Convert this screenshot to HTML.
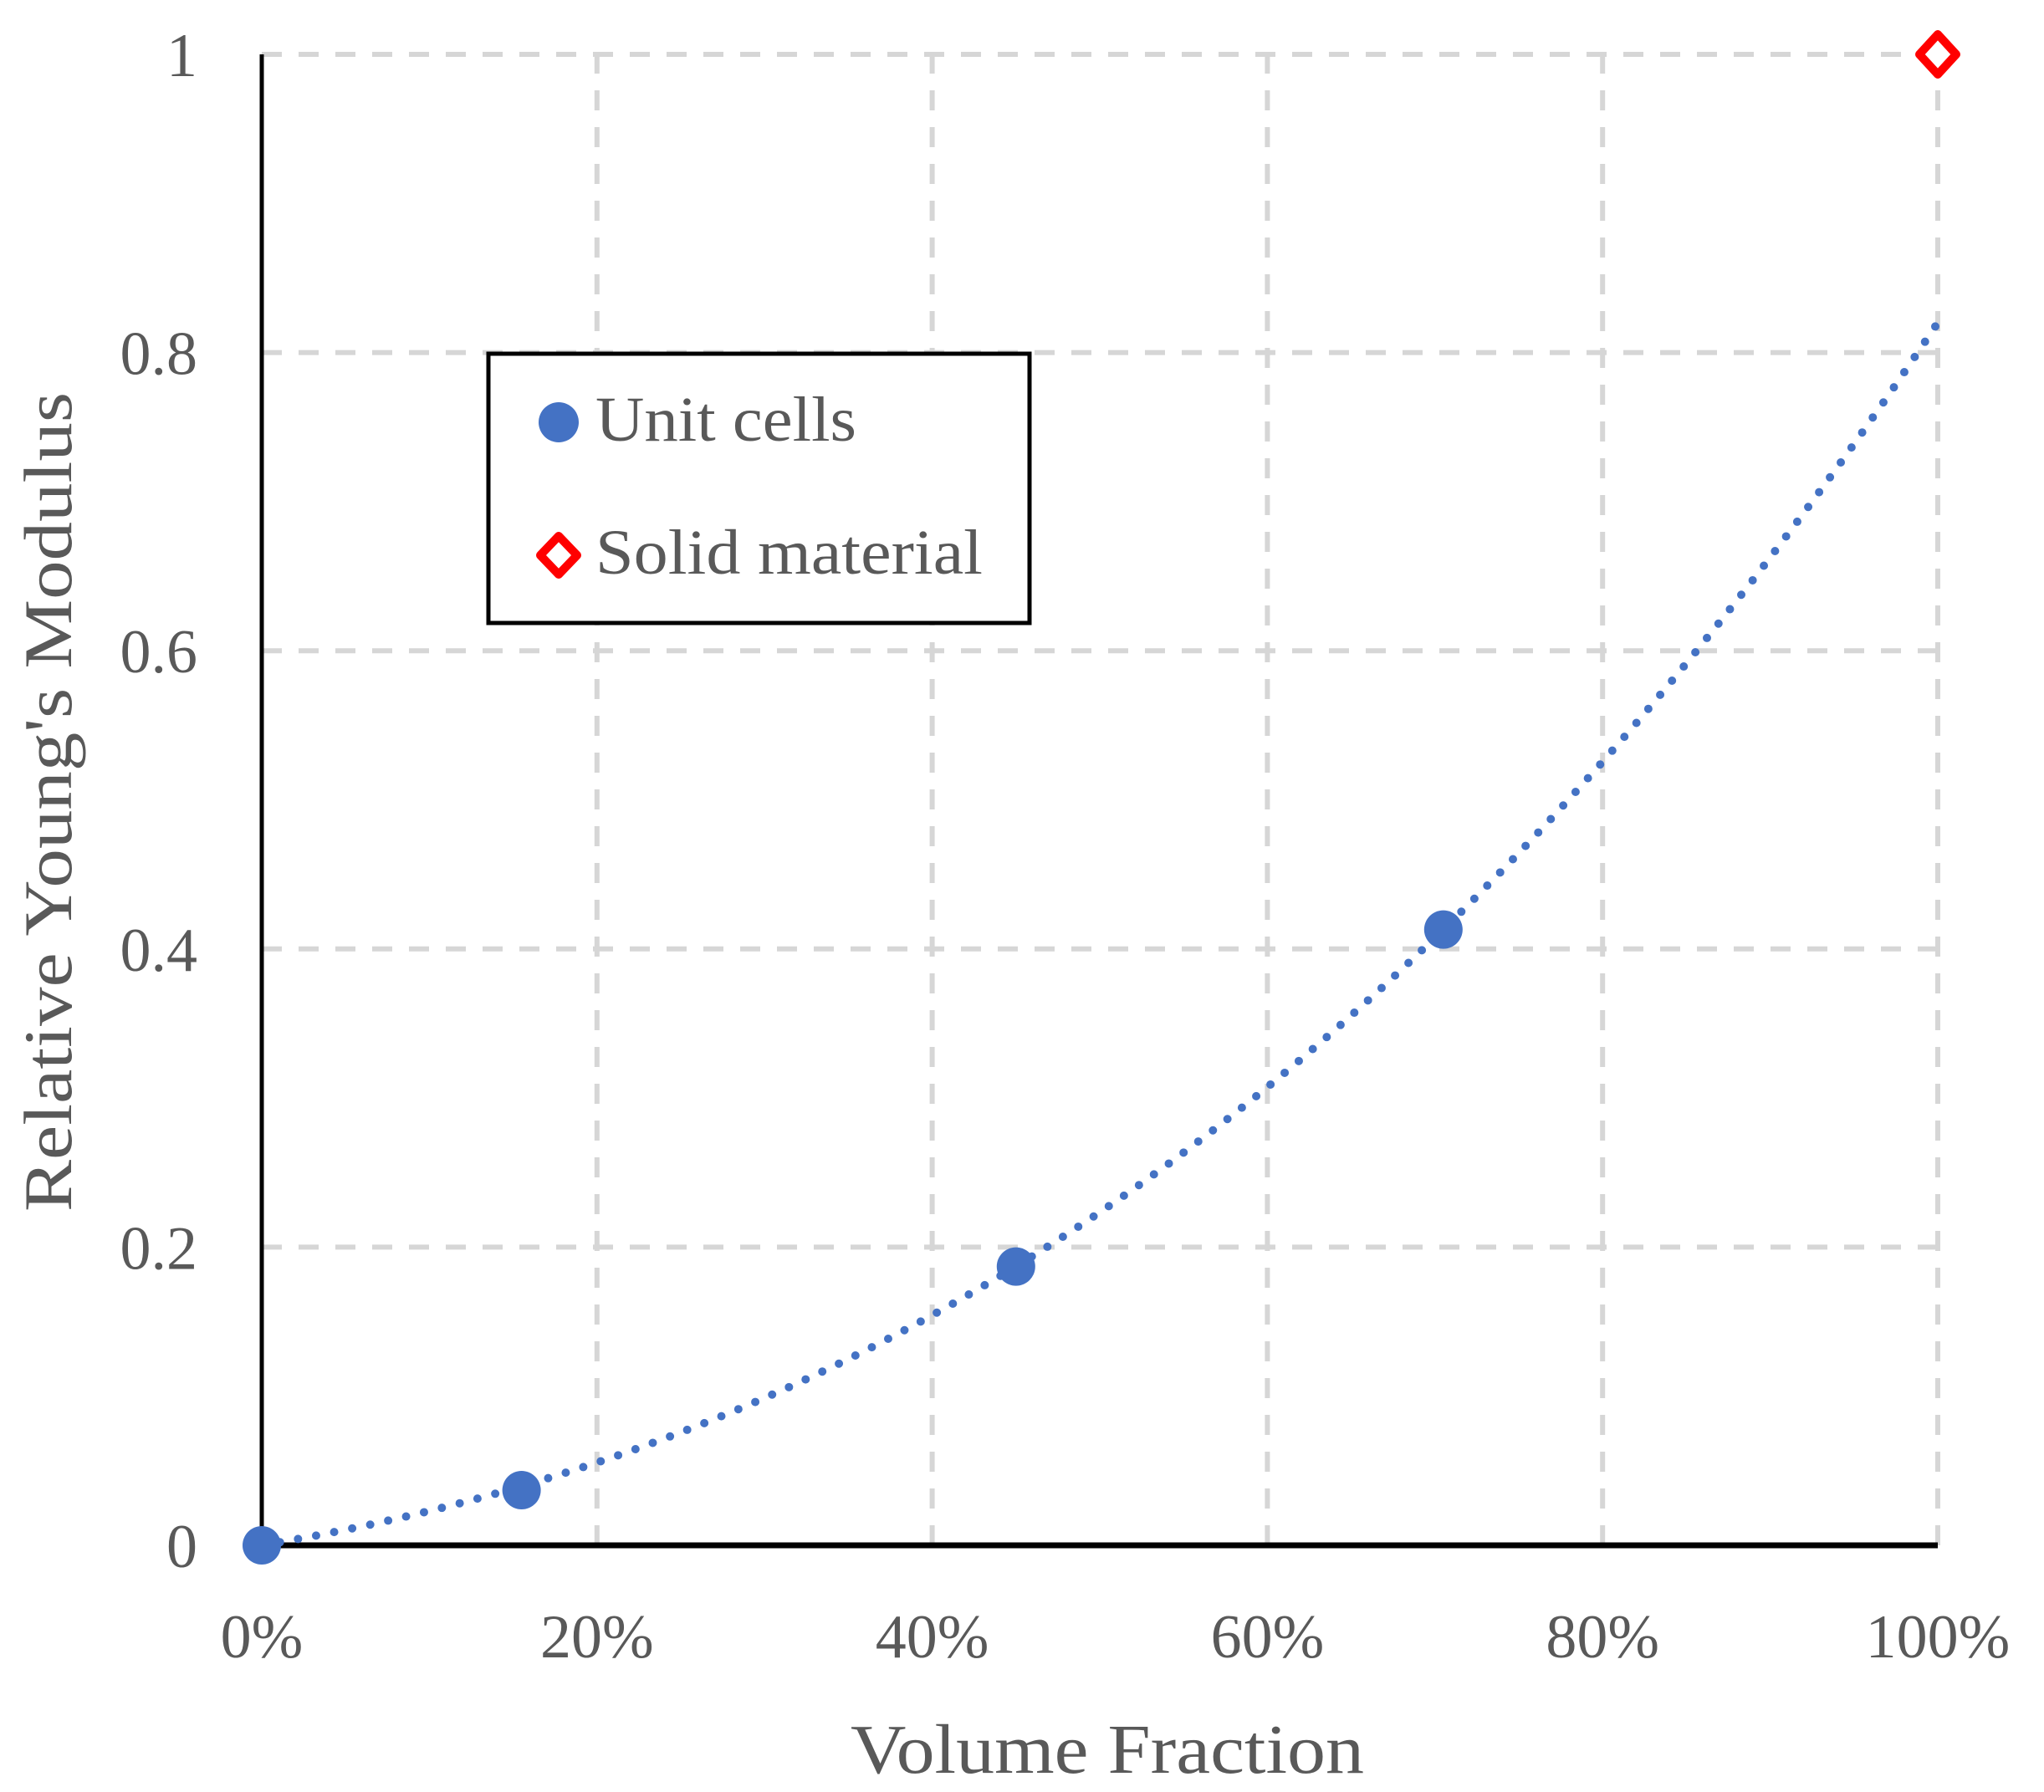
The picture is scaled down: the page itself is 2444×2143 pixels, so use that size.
<!DOCTYPE html>
<html><head><meta charset="utf-8"><style>
html,body{margin:0;padding:0;background:#fff;}
svg{display:block;}
text{font-family:"Liberation Serif",serif;fill:#595959;}
</style></head><body>
<svg id="chart" width="2444" height="2143" viewBox="0 0 2444 2143">
<g id="grid"></g>
<g id="axes"></g>
<g id="trend"></g>
<g id="marks"></g>
<text x="66" y="959" font-size="82" text-anchor="middle" textLength="980" lengthAdjust="spacingAndGlyphs" transform="rotate(-90 66 959)" dominant-baseline="middle">Relative Young's Modulus</text>
<text x="1324" y="2120" font-size="84" text-anchor="middle" textLength="614" lengthAdjust="spacingAndGlyphs">Volume Fraction</text>
<g>
<rect x="584" y="423" width="647" height="322" fill="#fff" stroke="#000" stroke-width="5"/>
<circle cx="668" cy="505" r="24" fill="#4472c4"/>
<text x="712" y="527" font-size="76" textLength="312" lengthAdjust="spacingAndGlyphs">Unit cells</text>
<path d="M668 641 L690 664 L668 687 L646 664 Z" fill="#fff" stroke="#ff0000" stroke-width="10" stroke-linejoin="round"/>
<text x="712" y="686" font-size="76" textLength="463" lengthAdjust="spacingAndGlyphs">Solid material</text>
</g>
</svg>
<script>
const xTicks=[0,0.2,0.4,0.6,0.8,1];
const xTickLabels=["0%","20%","40%","60%","80%","100%"];
const yTicks=[0,0.2,0.4,0.6,0.8,1];
const yTickLabels=["0","0.2","0.4","0.6","0.8","1"];
const unitX=[0,0.155,0.45,0.705];
const unitY=[0,0.037,0.187,0.413];
const solidX=[1];
const solidY=[1];
const trendCoef=[0,0.188,0.403,0.229];
const NS="http://www.w3.org/2000/svg";
const X0=313,X1=2317,Y0=1848,Y1=65;
function sx(v){return X0+(X1-X0)*v;}
function sy(v){return Y0-(Y0-Y1)*v;}
function mk(t,a,p){const e=document.createElementNS(NS,t);for(const k in a)e.setAttribute(k,a[k]);p.appendChild(e);return e;}
const grid=document.getElementById('grid'),axes=document.getElementById('axes'),svg=document.getElementById('chart');
xTicks.forEach((v,i)=>{
 if(v>0){const l=mk('line',{x1:sx(v),x2:sx(v),y1:Y0,y2:Y1,stroke:'#d6d6d6','stroke-width':6,'stroke-dasharray':'24 20'},grid);
 
 }
 const t=mk('text',{x:sx(v),y:1982,'font-size':74,'text-anchor':'middle'},svg);t.textContent=xTickLabels[i];
 
 
});
yTicks.forEach((v,i)=>{
 if(v>0){const l=mk('line',{x1:X0,x2:X1,y1:sy(v),y2:sy(v),stroke:'#d6d6d6','stroke-width':6,'stroke-dasharray':'24 20'},grid);
 
 }
 const t=mk('text',{x:236,y:sy(v)+26,'font-size':74,'text-anchor':'end'},svg);t.textContent=yTickLabels[i];
 
 
});
const ya=mk('line',{x1:X0,x2:X0,y1:Y1,y2:Y0,stroke:'#000','stroke-width':5},axes);


const xa=mk('line',{x1:X0,x2:X1,y1:Y0,y2:Y0,stroke:'#000','stroke-width':7},axes);


let d='';
for(let i=0;i<=200;i++){const x=i/200;const y=trendCoef[0]+trendCoef[1]*x+trendCoef[2]*x*x+trendCoef[3]*x*x*x;d+=(i?'L':'M')+sx(x).toFixed(1)+' '+sy(y).toFixed(1);}
const tr=mk('path',{d:d,fill:'none',stroke:'#4472c4','stroke-width':10,'stroke-linecap':'round','stroke-dasharray':'0 22'},document.getElementById('trend'));


const marks=document.getElementById('marks');
unitX.forEach((v,i)=>{const c=mk('circle',{cx:sx(v),cy:sy(unitY[i]),r:23,fill:'#4472c4'},marks);
 
 });
solidX.forEach((v,i)=>{const cx=sx(v),cy=sy(solidY[i]);
 const p=mk('path',{d:`M${cx} ${cy-24} L${cx+22} ${cy} L${cx} ${cy+24} L${cx-22} ${cy} Z`,fill:'#fff',stroke:'#ff0000','stroke-width':10,'stroke-linejoin':'round'},marks);
 
 });
</script>
</body></html>
